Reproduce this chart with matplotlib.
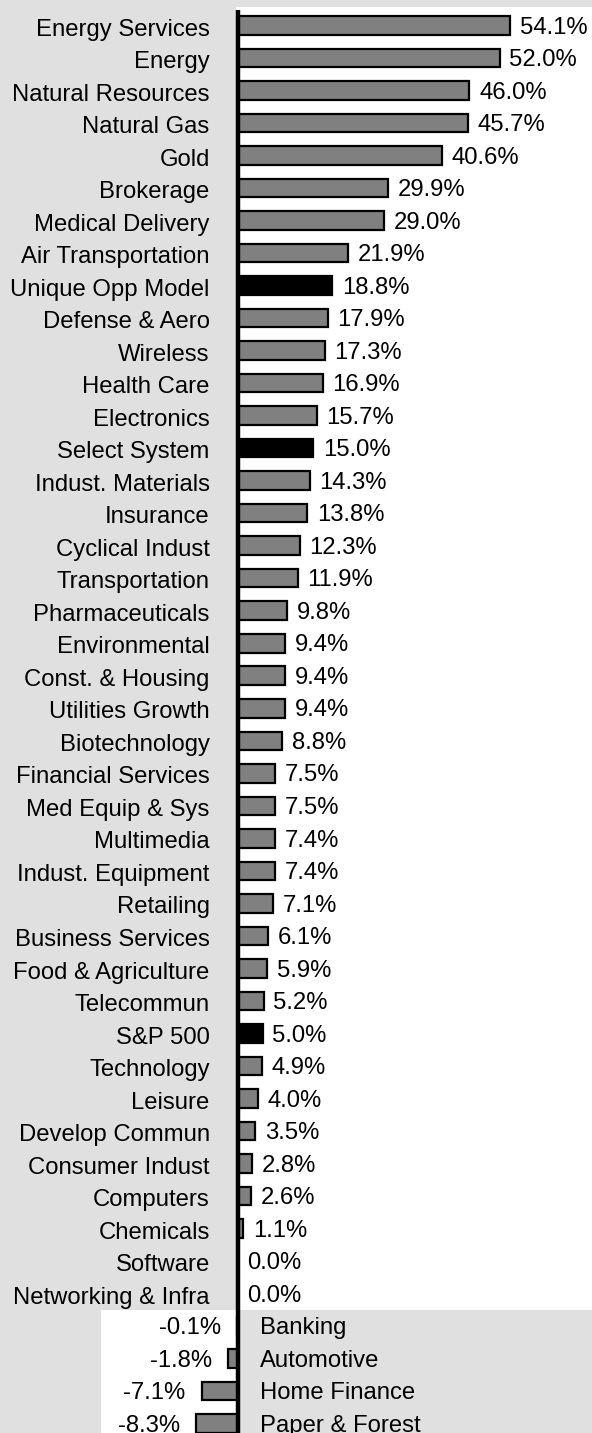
import matplotlib
matplotlib.use("Agg")
import matplotlib.pyplot as plt
from matplotlib.patches import Rectangle

plt.rcParams['font.family'] = ['Liberation Sans', 'DejaVu Sans']

# sector returns, top to bottom
sectors = [
    "Energy Services", "Energy", "Natural Resources", "Natural Gas", "Gold",
    "Brokerage", "Medical Delivery", "Air Transportation", "Unique Opp Model",
    "Defense & Aero", "Wireless", "Health Care", "Electronics", "Select System",
    "Indust. Materials", "Insurance", "Cyclical Indust", "Transportation",
    "Pharmaceuticals", "Environmental", "Const. & Housing", "Utilities Growth",
    "Biotechnology", "Financial Services", "Med Equip & Sys", "Multimedia",
    "Indust. Equipment", "Retailing", "Business Services", "Food & Agriculture",
    "Telecommun", "S&P 500", "Technology", "Leisure", "Develop Commun",
    "Consumer Indust", "Computers", "Chemicals", "Software",
    "Networking & Infra", "Banking", "Automotive", "Home Finance",
    "Paper & Forest",
]
returns = [
    54.1, 52.0, 46.0, 45.7, 40.6, 29.9, 29.0, 21.9, 18.8, 17.9, 17.3, 16.9,
    15.7, 15.0, 14.3, 13.8, 12.3, 11.9, 9.8, 9.4, 9.4, 9.4, 8.8, 7.5, 7.5,
    7.4, 7.4, 7.1, 6.1, 5.9, 5.2, 5.0, 4.9, 4.0, 3.5, 2.8, 2.6, 1.1, 0.0,
    0.0, -0.1, -1.8, -7.1, -8.3,
]
benchmarks = ["Unique Opp Model", "Select System", "S&P 500"]

grey_bg = "#e0e0e0"
fig = plt.figure(figsize=(5.92, 14.33), dpi=100, facecolor=grey_bg)
ax = fig.add_axes([0, 0, 1, 1])
ax.set_facecolor(grey_bg)
ax.set_xlim(-47.1, 70.3)
ax.set_ylim(43.29, -0.784)
ax.axis("off")

n = len(sectors)
first_neg = next(i for i, v in enumerate(returns) if v < 0)

# white plot panels
ax.add_patch(Rectangle((-0.3, -0.57), 80, first_neg - 0.5 + 0.57,
                       facecolor="white", edgecolor="none", zorder=0))
ax.add_patch(Rectangle((-27.0, first_neg - 0.5), 26.7, n,
                       facecolor="white", edgecolor="none", zorder=0))

ys = list(range(n))
colors = ["black" if s in benchmarks else "#808080" for s in sectors]
ax.barh(ys, returns, height=0.57, color=colors, edgecolor="black",
        linewidth=1.6, zorder=2)
ax.plot([0, 0], [-0.48, n + 1], color="black", lw=3.2, zorder=3,
        solid_capstyle="butt")

fs = 17.2
base_val = -5.9   # baseline offset so caps sit centred on the bar
base_lab = -7.3   # category names sit a touch lower
for y, (s, v) in enumerate(zip(sectors, returns)):
    if v >= 0:
        ax.annotate(s, (0, y), xytext=(-20, base_lab), textcoords="offset points",
                    ha="right", va="baseline", fontsize=fs)
        ax.annotate(f"{v:.1f}%", (v, y), xytext=(7, base_val),
                    textcoords="offset points", ha="left", va="baseline",
                    fontsize=fs)
    else:
        ax.annotate(s, (0, y), xytext=(16.5, base_val), textcoords="offset points",
                    ha="left", va="baseline", fontsize=fs)
        ax.annotate(f"{v:.1f}%", (v, y), xytext=(-11.5, base_val),
                    textcoords="offset points", ha="right", va="baseline",
                    fontsize=fs)

fig.savefig("out.png", dpi=100, facecolor=grey_bg)
